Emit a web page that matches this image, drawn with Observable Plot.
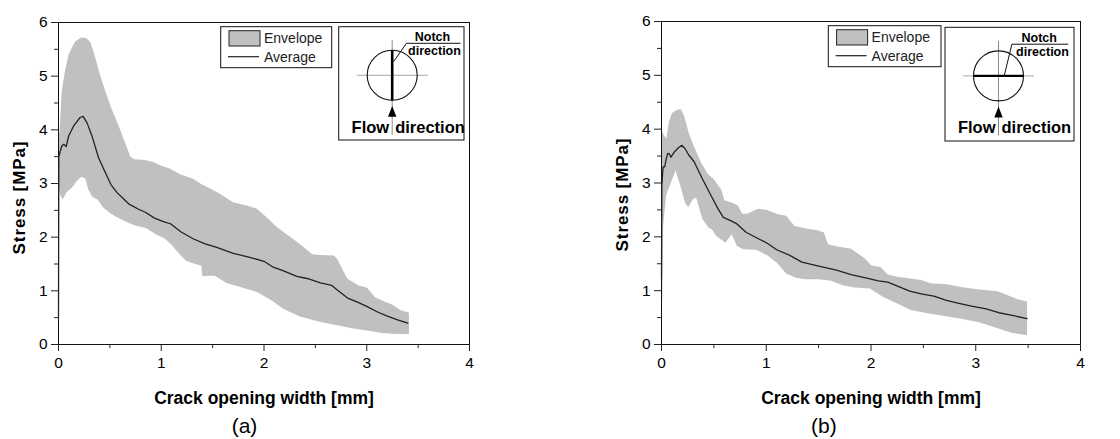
<!DOCTYPE html>
<html>
<head>
<meta charset="utf-8">
<script src="https://cdn.jsdelivr.net/npm/d3@7"></script>
<script src="https://cdn.jsdelivr.net/npm/@observablehq/plot@0.6"></script>
<style>
  html, body { margin: 0; padding: 0; background: #fff; }
  #wrap { position: relative; width: 1120px; height: 439px; overflow: hidden; background: #fff; }
  #wrap svg { position: absolute; top: 0; }
</style>
</head>
<body>
<div id="wrap"></div>
<script>
// ---------- texts & ticks ----------
const xTickValues = [0, 1, 2, 3, 4];
const xMinorTickValues = [0.5, 1.5, 2.5, 3.5];
const yTickValues = [0, 1, 2, 3, 4, 5, 6];
const yMinorTickValues = [0.5, 1.5, 2.5, 3.5, 4.5, 5.5];
const xTitle = "Crack opening width [mm]";
const yTitle = "Stress [MPa]";
const panelLabels = ["(a)", "(b)"];
const legendLabels = ["Envelope", "Average"];
const notchLabels = ["Notch", "direction"];
const flowLabels = ["Flow", "direction"];

// ---------- panel (a) ----------
const aUpperX = [0, 0.01, 0.03, 0.06, 0.10, 0.16, 0.22, 0.27, 0.31, 0.35, 0.40, 0.45, 0.51, 0.58, 0.64, 0.70, 0.74, 0.84, 0.92, 1.00, 1.08, 1.19, 1.31, 1.38, 1.48, 1.57, 1.70, 1.83, 1.93, 2.03, 2.13, 2.26, 2.37, 2.47, 2.55, 2.68, 2.71, 2.81, 2.92, 3.00, 3.08, 3.17, 3.25, 3.33, 3.41];
const aUpperY = [3.90, 3.95, 4.70, 5.07, 5.42, 5.64, 5.72, 5.71, 5.63, 5.40, 5.05, 4.75, 4.42, 4.10, 3.80, 3.50, 3.45, 3.44, 3.40, 3.33, 3.28, 3.17, 3.09, 3.00, 2.90, 2.81, 2.65, 2.59, 2.53, 2.36, 2.18, 2.00, 1.84, 1.68, 1.67, 1.66, 1.60, 1.23, 1.10, 1.06, 0.88, 0.80, 0.74, 0.64, 0.59];
const aLowerX = [0, 0.015, 0.04, 0.08, 0.13, 0.18, 0.22, 0.26, 0.29, 0.33, 0.38, 0.43, 0.50, 0.56, 0.64, 0.74, 0.85, 0.95, 1.03, 1.10, 1.17, 1.24, 1.33, 1.39, 1.40, 1.45, 1.52, 1.64, 1.77, 1.93, 2.06, 2.19, 2.35, 2.55, 2.71, 2.87, 3.00, 3.13, 3.25, 3.41];
const aLowerY = [3.00, 2.80, 2.70, 2.84, 2.92, 3.05, 3.12, 3.10, 2.89, 2.75, 2.70, 2.56, 2.45, 2.38, 2.30, 2.22, 2.17, 2.05, 1.98, 1.86, 1.70, 1.56, 1.50, 1.47, 1.27, 1.28, 1.28, 1.14, 1.07, 0.98, 0.84, 0.66, 0.52, 0.42, 0.36, 0.30, 0.26, 0.22, 0.20, 0.19];
const aAverageX = [0, 0.003, 0.01, 0.03, 0.05, 0.075, 0.10, 0.15, 0.21, 0.24, 0.28, 0.33, 0.39, 0.45, 0.51, 0.57, 0.63, 0.69, 0.78, 0.85, 0.93, 1.02, 1.09, 1.19, 1.31, 1.42, 1.54, 1.70, 1.87, 2.00, 2.09, 2.19, 2.32, 2.42, 2.55, 2.66, 2.71, 2.81, 2.91, 3.00, 3.10, 3.20, 3.30, 3.40];
const aAverageY = [0.50, 3.50, 3.55, 3.69, 3.73, 3.69, 3.89, 4.08, 4.23, 4.25, 4.12, 3.86, 3.48, 3.23, 2.98, 2.83, 2.72, 2.61, 2.52, 2.46, 2.36, 2.29, 2.25, 2.10, 1.97, 1.88, 1.81, 1.70, 1.62, 1.55, 1.44, 1.37, 1.27, 1.23, 1.15, 1.10, 1.02, 0.87, 0.79, 0.71, 0.61, 0.53, 0.46, 0.40];

// ---------- panel (b) ----------
const bUpperX = [0, 0.02, 0.045, 0.07, 0.10, 0.15, 0.185, 0.215, 0.26, 0.31, 0.38, 0.44, 0.50, 0.57, 0.60, 0.67, 0.73, 0.77, 0.82, 0.92, 1.01, 1.11, 1.19, 1.27, 1.39, 1.49, 1.55, 1.59, 1.68, 1.81, 1.94, 2.00, 2.09, 2.16, 2.25, 2.48, 2.57, 2.73, 2.86, 2.99, 3.11, 3.21, 3.30, 3.40, 3.49];
const bUpperY = [3.97, 3.90, 3.82, 4.13, 4.30, 4.36, 4.37, 4.25, 3.93, 3.68, 3.37, 3.17, 3.07, 2.88, 2.68, 2.64, 2.58, 2.43, 2.43, 2.52, 2.50, 2.42, 2.39, 2.20, 2.15, 2.12, 2.08, 1.86, 1.82, 1.78, 1.60, 1.47, 1.44, 1.30, 1.26, 1.20, 1.14, 1.12, 1.07, 1.03, 1.01, 0.99, 0.92, 0.84, 0.80];
const bLowerX = [0, 0.008, 0.015, 0.045, 0.09, 0.134, 0.18, 0.224, 0.254, 0.30, 0.33, 0.39, 0.45, 0.48, 0.52, 0.61, 0.67, 0.72, 0.78, 0.90, 1.01, 1.10, 1.19, 1.28, 1.37, 1.49, 1.61, 1.73, 1.84, 1.99, 2.12, 2.25, 2.38, 2.54, 2.70, 2.86, 3.02, 3.18, 3.34, 3.49];
const bLowerY = [0.82, 0.82, 2.20, 2.78, 3.01, 3.23, 2.95, 2.64, 2.55, 2.70, 2.73, 2.33, 2.17, 2.14, 2.02, 1.89, 2.05, 1.83, 1.77, 1.76, 1.66, 1.52, 1.32, 1.24, 1.21, 1.21, 1.19, 1.10, 1.06, 1.04, 0.88, 0.76, 0.64, 0.58, 0.53, 0.48, 0.42, 0.32, 0.22, 0.17];
const bAverageX = [0, 0.003, 0.015, 0.03, 0.045, 0.06, 0.075, 0.09, 0.12, 0.164, 0.194, 0.224, 0.26, 0.31, 0.39, 0.48, 0.54, 0.59, 0.66, 0.72, 0.81, 0.93, 1.01, 1.10, 1.22, 1.34, 1.49, 1.67, 1.81, 1.99, 2.07, 2.16, 2.27, 2.37, 2.48, 2.60, 2.72, 2.85, 2.97, 3.10, 3.22, 3.35, 3.49];
const bAverageY = [1.21, 2.95, 3.30, 3.30, 3.45, 3.55, 3.54, 3.48, 3.57, 3.66, 3.70, 3.64, 3.52, 3.40, 3.08, 2.74, 2.52, 2.36, 2.30, 2.24, 2.08, 1.96, 1.88, 1.76, 1.66, 1.53, 1.46, 1.38, 1.30, 1.22, 1.18, 1.16, 1.07, 0.99, 0.94, 0.90, 0.82, 0.76, 0.71, 0.66, 0.59, 0.54, 0.48];

const FONT = "'Liberation Sans', Arial, Helvetica, sans-serif";
const ENV_FILL = "#c0c0c0";

function legendMark(L) {
  return () => {
    const g = d3.create("svg:g").attr("font-family", FONT);
    g.append("rect").attr("x", L.x).attr("y", L.y).attr("width", L.w).attr("height", L.h)
      .attr("fill", "#fff").attr("stroke", "#111").attr("stroke-width", 1);
    g.append("rect").attr("x", L.x + 8.3).attr("y", L.y + 4).attr("width", 31).attr("height", 15.3)
      .attr("fill", ENV_FILL).attr("stroke", "#222").attr("stroke-width", 1);
    g.append("text").attr("x", L.x + 43.3).attr("y", L.y + 16.6).attr("text-anchor", "start")
      .attr("font-size", 14).attr("fill", "#222").text(legendLabels[0]);
    g.append("line").attr("x1", L.x + 7.3).attr("x2", L.x + 38.3).attr("y1", L.y + 30).attr("y2", L.y + 30)
      .attr("stroke", "#222").attr("stroke-width", 1.2);
    g.append("text").attr("x", L.x + 43.3).attr("y", L.y + 35).attr("text-anchor", "start")
      .attr("font-size", 14).attr("fill", "#222").text(legendLabels[1]);
    return g.node();
  };
}

function insetMark(I) {
  return () => {
    const g = d3.create("svg:g").attr("font-family", FONT);
    const cx = I.x + 53.5, cy = I.y + 48.6, r = 25;
    g.append("rect").attr("x", I.x).attr("y", I.y).attr("width", I.w).attr("height", I.h)
      .attr("fill", "#fff").attr("stroke", "#111").attr("stroke-width", 1);
    g.append("line").attr("x1", cx - 35.5).attr("x2", cx + 35.5).attr("y1", cy).attr("y2", cy)
      .attr("stroke", "#a8a8a8").attr("stroke-width", 1);
    g.append("line").attr("x1", cx).attr("x2", cx).attr("y1", cy - 35).attr("y2", cy + 59.5)
      .attr("stroke", "#8a8a8a").attr("stroke-width", 1);
    g.append("circle").attr("cx", cx).attr("cy", cy).attr("r", r)
      .attr("fill", "none").attr("stroke", "#111").attr("stroke-width", 1.1);
    if (I.vertical) {
      g.append("line").attr("x1", cx).attr("x2", cx).attr("y1", cy - r).attr("y2", cy + r)
        .attr("stroke", "#000").attr("stroke-width", 2.6);
    } else {
      g.append("line").attr("x1", cx - r).attr("x2", cx + r).attr("y1", cy).attr("y2", cy)
        .attr("stroke", "#000").attr("stroke-width", 2.2);
    }
    g.append("polyline").attr("points", I.leader.map(([dx, dy]) => `${cx + dx},${cy + dy}`).join(" "))
      .attr("fill", "none").attr("stroke", "#111").attr("stroke-width", 1);
    g.append("text").attr("x", cx + I.notchDx[0]).attr("y", cy - 34).attr("text-anchor", "middle")
      .attr("font-size", 12.5).attr("font-weight", "bold").text(notchLabels[0]);
    g.append("text").attr("x", cx + I.notchDx[1]).attr("y", cy - 20.2).attr("text-anchor", "middle")
      .attr("font-size", 12.5).attr("font-weight", "bold").text(notchLabels[1]);
    g.append("path").attr("d", `M${cx},${cy + 30.7}L${cx + 4.2},${cy + 41.5}L${cx - 4.2},${cy + 41.5}Z`).attr("fill", "#000");
    g.append("text").attr("x", cx - 3).attr("y", cy + 57.4).attr("text-anchor", "end")
      .attr("font-size", 16.5).attr("font-weight", "bold").text(flowLabels[0]);
    g.append("text").attr("x", cx + 3).attr("y", cy + 57.4).attr("text-anchor", "start")
      .attr("font-size", 16.5).attr("font-weight", "bold").text(flowLabels[1]);
    return g.node();
  };
}

function panel(P) {
  const env = P.upX.map((x, i) => ({x, y: P.upY[i]}))
    .concat(P.loX.map((x, i) => ({x, y: P.loY[i]})).reverse());
  const avg = P.avgX.map((x, i) => ({x, y: P.avgY[i]}));
  const svg = Plot.plot({
    width: 560, height: 439,
    marginLeft: P.ml, marginRight: P.mr, marginTop: P.mt, marginBottom: P.mb,
    x: {domain: [0, 4], label: null},
    y: {domain: [0, 6], label: null},
    style: {fontFamily: FONT, color: "#000", background: "#fff"},
    marks: [
      Plot.line(env, {x: "x", y: "y", fill: ENV_FILL, stroke: "none"}),
      Plot.frame({stroke: "#111", strokeWidth: 1}),
      Plot.line(avg, {x: "x", y: "y", stroke: "#222", strokeWidth: 1.3}),
      // tick marks
      Plot.axisX(xTickValues, {tickSize: 7, tickFormat: () => "", label: null, stroke: "#222"}),
      Plot.axisX(xMinorTickValues, {tickSize: 4, tickFormat: () => "", label: null, stroke: "#222"}),
      Plot.axisY(yTickValues, {tickSize: 7, tickFormat: () => "", label: null, stroke: "#222"}),
      Plot.axisY(yMinorTickValues, {tickSize: 4, tickFormat: () => "", label: null, stroke: "#222"}),
      // tick labels
      Plot.text(xTickValues, {x: d => d, text: d => String(d), frameAnchor: "bottom", lineAnchor: "top",
        textAnchor: "middle", dy: 12, fontSize: 15.5, fill: "#000"}),
      Plot.text(yTickValues, {y: d => d, text: d => String(d), frameAnchor: "left", lineAnchor: "middle",
        textAnchor: "end", dx: -11, fontSize: 15.5, fill: "#000"}),
      // titles
      Plot.text([xTitle], {text: d => d, frameAnchor: "bottom", lineAnchor: "middle", textAnchor: "middle",
        dy: 53.7, fontSize: 17.5, fontWeight: "bold", fill: "#000"}),
      Plot.text([yTitle], {text: d => d, frameAnchor: "left", lineAnchor: "middle", textAnchor: "middle",
        rotate: -90, dx: -39, dy: P.ytDy, fontSize: 17, fontWeight: "bold", fill: "#000"}),
      Plot.text([P.label], {text: d => d, frameAnchor: "bottom", lineAnchor: "middle", textAnchor: "middle",
        dx: P.labDx, dy: 82, fontSize: 21, fill: "#000"}),
      legendMark(P.legend),
      insetMark(P.inset)
    ]
  });
  d3.select(svg).selectAll("text").filter(function () { return this.textContent === yTitle; })
    .attr("letter-spacing", "0.9px");
  svg.style.left = P.left + "px";
  return svg;
}

const wrap = document.getElementById("wrap");
wrap.appendChild(panel({
  left: 0, ml: 58, mr: 91, mt: 22, mb: 95, ytDy: 14, labDx: -19.5, label: panelLabels[0],
  upX: aUpperX, upY: aUpperY, loX: aLowerX, loY: aLowerY, avgX: aAverageX, avgY: aAverageY,
  legend: {x: 220.7, y: 26.7, w: 111, h: 41},
  inset: {x: 338.7, y: 26.7, w: 125.3, h: 113.3, vertical: true,
          leader: [[1.3, -13.6], [14.3, -32], [68.3, -32]], notchDx: [40.3, 42.3]}
}));
wrap.appendChild(panel({
  left: 560, ml: 101, mr: 40, mt: 21, mb: 95, ytDy: 11.5, labDx: -47.2, label: panelLabels[1],
  upX: bUpperX, upY: bUpperY, loX: bLowerX, loY: bLowerY, avgX: bAverageX, avgY: bAverageY,
  legend: {x: 268.3, y: 25.7, w: 112.7, h: 41},
  inset: {x: 385, y: 27.3, w: 129, h: 113.7, vertical: false,
          leader: [[5.7, 0], [13.4, -31.7], [69.7, -31.7]], notchDx: [40.7, 44]}
}));
</script>
</body>
</html>
